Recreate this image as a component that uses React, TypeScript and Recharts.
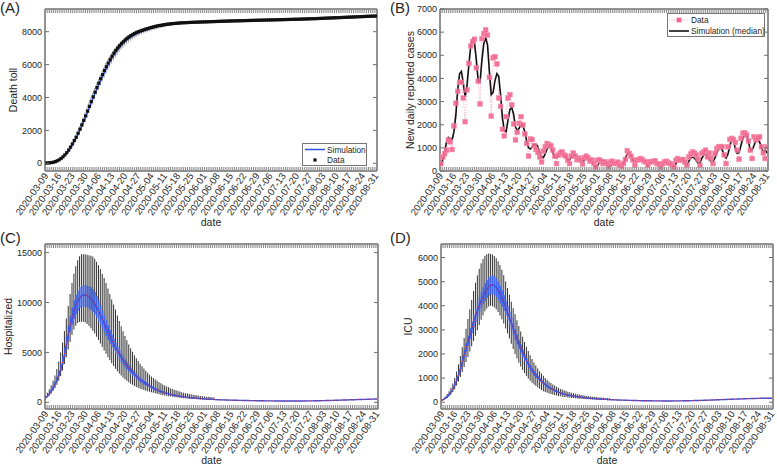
import React from 'react';
import { ComposedChart, Line, Bar, XAxis, YAxis, ReferenceLine } from 'recharts';

// weekly tick labels (day index = 7 * position)
const weekLabels = [
  '2020-03-09', '2020-03-16', '2020-03-23', '2020-03-30', '2020-04-06', '2020-04-13',
  '2020-04-20', '2020-04-27', '2020-05-04', '2020-05-11', '2020-05-18', '2020-05-25',
  '2020-06-01', '2020-06-08', '2020-06-15', '2020-06-22', '2020-06-29', '2020-07-06',
  '2020-07-13', '2020-07-20', '2020-07-27', '2020-08-03', '2020-08-10', '2020-08-17',
  '2020-08-24', '2020-08-31',
];

// (A) cumulative deaths, daily from 2020-03-09
const deathData = [
  15, 20, 30, 45, 65, 100, 150, 210, 290, 390,
  510, 640, 800, 980, 1170, 1380, 1580, 1820, 2070, 2330,
  2600, 2880, 3170, 3460, 3750, 4040, 4320, 4600, 4870, 5140,
  5390, 5640, 5870, 6090, 6300, 6500, 6690, 6860, 7010, 7150,
  7280, 7390, 7500, 7600, 7680, 7760, 7830, 7890, 7950, 8000,
  8040, 8080, 8120, 8160, 8190, 8230, 8260, 8290, 8320, 8350,
  8370, 8390, 8410, 8430, 8450, 8460, 8480, 8490, 8500, 8510,
  8520, 8530, 8540, 8545, 8550, 8555, 8560, 8565, 8570, 8575,
  8580, 8584, 8588, 8592, 8596, 8600, 8604, 8608, 8612, 8616,
  8620, 8624, 8628, 8632, 8636, 8640, 8644, 8648, 8652, 8655,
  8658, 8661, 8664, 8667, 8670, 8673, 8676, 8679, 8682, 8685,
  8688, 8691, 8694, 8697, 8700, 8703, 8706, 8709, 8712, 8715,
  8718, 8721, 8724, 8727, 8730, 8733, 8736, 8739, 8742, 8745,
  8748, 8751, 8754, 8757, 8760, 8764, 8768, 8772, 8776, 8780,
  8784, 8788, 8792, 8796, 8800, 8805, 8810, 8815, 8820, 8825,
  8830, 8835, 8840, 8845, 8850, 8855, 8860, 8865, 8870, 8875,
  8880, 8885, 8890, 8895, 8900, 8905, 8910, 8915, 8920, 8925,
  8930, 8935, 8940, 8944, 8947, 8950,
];
const deathSim = [
  15, 21, 31, 45, 66, 97, 142, 200, 275, 370,
  480, 610, 760, 930, 1120, 1320, 1530, 1760, 2010, 2260,
  2530, 2810, 3090, 3380, 3670, 3960, 4240, 4520, 4790, 5050,
  5300, 5540, 5770, 5990, 6200, 6390, 6570, 6740, 6900, 7040,
  7170, 7290, 7400, 7500, 7590, 7670, 7740, 7810, 7870, 7930,
  7980, 8030, 8070, 8110, 8150, 8190, 8220, 8250, 8280, 8310,
  8340, 8360, 8380, 8400, 8420, 8440, 8450, 8460, 8470, 8480,
  8490, 8500, 8510, 8520, 8530, 8540, 8548, 8555, 8562, 8568,
  8574, 8579, 8584, 8588, 8592, 8596, 8600, 8604, 8608, 8612,
  8616, 8620, 8624, 8628, 8632, 8636, 8640, 8644, 8648, 8651,
  8654, 8657, 8660, 8663, 8666, 8669, 8672, 8675, 8678, 8681,
  8684, 8687, 8690, 8693, 8696, 8699, 8702, 8705, 8708, 8711,
  8714, 8717, 8720, 8723, 8726, 8729, 8732, 8735, 8738, 8741,
  8744, 8747, 8750, 8753, 8756, 8760, 8764, 8768, 8772, 8776,
  8780, 8784, 8788, 8792, 8796, 8801, 8806, 8811, 8816, 8821,
  8826, 8831, 8836, 8841, 8846, 8851, 8856, 8861, 8866, 8871,
  8876, 8881, 8886, 8891, 8896, 8901, 8906, 8911, 8916, 8921,
  8926, 8931, 8936, 8940, 8944, 8947,
];
// whisker ends, only where the spread is visible (first 70 days)
const deathLo = [
  10, 15, 22, 33, 50, 75, 110, 160, 220, 295,
  390, 500, 630, 780, 950, 1130, 1330, 1540, 1770, 2010,
  2260, 2520, 2790, 3070, 3350, 3630, 3910, 4180, 4450, 4710,
  4960, 5200, 5430, 5650, 5860, 6060, 6250, 6430, 6600, 6760,
  6900, 7030, 7150, 7260, 7360, 7450, 7530, 7610, 7680, 7740,
  7800, 7850, 7900, 7950, 7990, 8030, 8070, 8110, 8140, 8170,
  8200, 8230, 8260, 8290, 8310, 8330, 8350, 8370, 8390, 8410,
];
const deathHi = [
  20, 28, 40, 58, 82, 120, 175, 245, 335, 445,
  575, 725, 895, 1085, 1290, 1510, 1740, 1990, 2250, 2520,
  2800, 3090, 3390, 3690, 3990, 4280, 4570, 4850, 5120, 5380,
  5630, 5870, 6100, 6310, 6510, 6700, 6870, 7030, 7170, 7300,
  7420, 7530, 7630, 7720, 7800, 7870, 7940, 8000, 8050, 8100,
  8140, 8180, 8220, 8250, 8280, 8310, 8340, 8370, 8390, 8410,
  8430, 8450, 8470, 8490, 8500, 8510, 8520, 8530, 8540, 8550,
];

// (B) new daily reported cases
const casesData = [
  320, 600, 750, 900, 1340, 1260, 930,
  1950, 2930, 3440, 3830, 3830, 3150, 2130,
  3510, 4650, 5400, 5590, 5690, 4460, 3880,
  2900, 5720, 5940, 6100, 5870, 4050, 2370,
  4890, 4940, 4630, 3150, 2790, 1800, 1520,
  2350, 3150, 3300, 2860, 2030, 1340, 1670,
  2060, 2350, 1990, 1600, 1190, 640, 1380,
  1360, 1100, 930, 800, 610, 390, 860,
  1050, 1190, 1130, 1090, 900, 640, 320,
  680, 780, 830, 700, 640, 460, 320,
  640, 780, 650, 490, 560, 470, 300,
  580, 640, 560, 420, 480, 330, 170,
  460, 490, 420, 320, 400, 320, 170,
  390, 420, 330, 320, 380, 250, 200,
  330, 500, 880, 760, 640, 480, 250,
  460, 490, 540, 500, 420, 390, 250,
  390, 390, 420, 440, 320, 300, 170,
  320, 390, 420, 360, 320, 270, 170,
  460, 540, 460, 490, 500, 380, 250,
  610, 730, 830, 780, 700, 520, 250,
  760, 830, 900, 610, 780, 560, 320,
  760, 970, 1050, 1060, 1050, 700, 320,
  1050, 1360, 1410, 1360, 1230, 900, 510,
  1410, 1630, 1650, 1550, 1300, 900, 540,
  1480, 1340, 1410, 1480, 1050, 780, 540,
  1050,
];
const casesSim = [
  250, 500, 850, 1250, 1450, 1400, 1350, 1700, 2400, 3500,
  4200, 4300, 3800, 3200, 3700, 4600, 5400, 5700, 5550, 4800,
  3900, 3850, 4800, 5500, 5750, 5450, 4300, 3300, 3400, 3900,
  4200, 4100, 3300, 2300, 1750, 1700, 2200, 2650, 2750, 2450,
  1900, 1750, 1850, 2000, 1950, 1700, 1300, 1000, 950, 1050,
  1150, 1150, 1050, 800, 600, 580, 750, 950, 1050, 1000,
  800, 600, 560, 650, 780, 830, 760, 600, 480, 480,
  600, 720, 730, 620, 480, 400, 390, 500, 600, 580,
  450, 330, 230, 180, 220, 380, 480, 490, 400, 280,
  180, 200, 340, 390, 360, 290, 220, 210, 330, 560,
  740, 780, 640, 470, 390, 420, 440, 440, 450, 430,
  330, 230, 300, 380, 400, 410, 380, 300, 200, 230,
  340, 390, 400, 360, 260, 200, 300, 450, 490, 480,
  420, 300, 260, 420, 560, 600, 560, 450, 330, 350,
  550, 690, 730, 640, 480, 400, 420,
  560, 780, 940, 1000, 900, 650, 560, 720, 1050, 1380,
  1300, 950, 760, 800, 1100, 1400, 1580, 1600, 1250, 920,
  900, 1100, 1300, 1360, 1250, 1000, 820, 900, 780,
];

// (C) hospitalized: median for every day, box and whiskers for the first 90 days
const hospMed = [
  450, 650, 900, 1180, 1500, 1880, 2320, 2850, 3450, 4150,
  4950, 6000, 6950, 7850, 8650, 9300, 9800, 10200, 10500, 10700,
  10780, 10760, 10680, 10540, 10350, 10100, 9800, 9450, 9060, 8650,
  8230, 7800, 7380, 6960, 6560, 6170, 5800, 5450, 5120, 4810,
  4480, 4190, 3910, 3650, 3410, 3180, 2970, 2770, 2590, 2420,
  2260, 2110, 1970, 1840, 1720, 1600, 1500, 1400, 1310, 1230,
  1150, 1080, 1010, 950, 890, 840, 790, 750, 710, 670,
  640, 610, 580, 550, 520, 500, 475, 455, 435, 415,
  400, 385, 370, 355, 340, 325, 310, 300, 290, 280,
  270, 262, 255, 248, 241, 235, 229, 223, 217, 212,
  207, 202, 197, 192, 188, 184, 180, 176, 172, 168,
  165, 162, 159, 156, 153, 150, 148, 146, 144, 142,
  140, 138, 136, 134, 132, 131, 130, 129, 128, 128,
  128, 129, 130, 131, 132, 134, 136, 138, 140, 143,
  146, 149, 152, 156, 160, 164, 168, 172, 177, 182,
  187, 192, 197, 203, 209, 215, 221, 227, 233, 239,
  245, 251, 257, 263, 269, 275, 281, 287, 293, 299,
  305, 311, 317, 323, 329, 335,
];
const hospQ1 = [
  400, 590, 810, 1060, 1350, 1690, 2090, 2570, 3110, 3740,
  4460, 5400, 6250, 7070, 7790, 8370, 8820, 9180, 9450, 9600,
  9600, 9580, 9500, 9400, 9250, 9050, 8800, 8480, 8120, 7750,
  7380, 7000, 6620, 6250, 5880, 5530, 5200, 4890, 4590, 4310,
  4030, 3770, 3520, 3290, 3070, 2860, 2670, 2490, 2330, 2180,
  2030, 1900, 1770, 1660, 1550, 1440, 1350, 1260, 1180, 1110,
  1040, 970, 910, 860, 800, 760, 710, 680, 640, 600,
  580, 550, 520, 500, 470, 450, 430, 410, 390, 370,
  360, 350, 330, 320, 310, 290, 280, 270, 260, 250,
];
const hospQ3 = [
  500, 720, 990, 1300, 1650, 2070, 2550, 3140, 3800, 4570,
  5450, 6600, 7650, 8640, 9520, 10230, 10780, 11220, 11550, 11700,
  11750, 11750, 11700, 11650, 11550, 11350, 11050, 10650, 10200, 9700,
  9200, 8700, 8200, 7720, 7250, 6800, 6380, 5990, 5630, 5290,
  4930, 4610, 4300, 4020, 3750, 3500, 3270, 3050, 2850, 2660,
  2490, 2320, 2170, 2020, 1890, 1760, 1650, 1540, 1440, 1350,
  1270, 1190, 1110, 1050, 980, 920, 870, 830, 780, 740,
  700, 670, 640, 610, 570, 550, 520, 500, 480, 460,
  440, 420, 410, 390, 370, 360, 340, 330, 320, 310,
];
const hospLo = [
  350, 500, 680, 890, 1130, 1420, 1760, 2170, 2650, 3200,
  3850, 4550, 5300, 6050, 6750, 7300, 7700, 7950, 8050, 8080,
  8070, 8000, 7850, 7650, 7420, 7170, 6900, 6580, 6240, 5900,
  5550, 5200, 4860, 4530, 4210, 3910, 3630, 3370, 3120, 2890,
  2680, 2490, 2310, 2150, 2000, 1870, 1750, 1640, 1540, 1450,
  1370, 1300, 1230, 1170, 1110, 1060, 1000, 950, 900, 850,
  800, 760, 720, 690, 650, 620, 590, 560, 530, 500,
  480, 460, 440, 420, 400, 385, 370, 355, 340, 325,
  310, 300, 290, 280, 270, 260, 250, 240, 232, 225,
];
const hospHi = [
  650, 950, 1300, 1700, 2150, 2700, 3350, 4100, 5000, 6000,
  7150, 8400, 9650, 10850, 11950, 12900, 13650, 14250, 14650, 14850,
  14850, 14850, 14800, 14750, 14700, 14620, 14400, 14100, 13750, 13350,
  12900, 12450, 11950, 11400, 10850, 10300, 9800, 9300, 8700, 8150,
  7620, 7120, 6650, 6210, 5800, 5420, 5060, 4730, 4420, 4130,
  3860, 3610, 3380, 3160, 2960, 2770, 2600, 2440, 2290, 2150,
  2020, 1900, 1790, 1690, 1590, 1500, 1420, 1340, 1270, 1200,
  1140, 1080, 1020, 970, 920, 880, 840, 800, 760, 730,
  700, 670, 640, 610, 590, 570, 550, 530, 510, 490,
];

// (D) ICU
const icuMed = [
  80, 120, 170, 240, 330, 440, 580, 750, 950, 1180,
  1440, 1720, 2000, 2280, 2560, 2840, 3110, 3370, 3610, 3840,
  4050, 4240, 4420, 4570, 4700, 4800, 4860, 4870, 4830, 4740,
  4620, 4470, 4300, 4110, 3900, 3690, 3470, 3250, 3030, 2810,
  2600, 2400, 2210, 2030, 1860, 1700, 1560, 1430, 1310, 1200,
  1100, 1010, 930, 850, 780, 720, 660, 610, 560, 520,
  480, 445, 410, 385, 360, 335, 315, 295, 280, 265,
  250, 238, 226, 215, 205, 195, 186, 178, 170, 163,
  156, 150, 144, 138, 133, 128, 123, 118, 114, 110,
  106, 102, 98, 95, 92, 89, 86, 83, 80, 78,
  76, 74, 72, 70, 68, 66, 64, 63, 62, 61,
  60, 59, 58, 57, 56, 55, 55, 54, 54, 54,
  54, 54, 54, 55, 55, 56, 57, 58, 59, 60,
  62, 64, 66, 68, 70, 72, 74, 76, 78, 80,
  83, 86, 89, 92, 95, 98, 101, 104, 107, 110,
  113, 116, 119, 122, 125, 128, 131, 134, 137, 140,
  143, 146, 149, 151, 153, 155, 157, 159, 161, 163,
  164, 165, 166, 167, 168, 168,
];
const icuQ1 = [
  74, 110, 156, 220, 305, 405, 535, 690, 875, 1085,
  1325, 1580, 1840, 2100, 2355, 2610, 2860, 3100, 3320, 3530,
  3730, 3900, 4070, 4200, 4320, 4420, 4470, 4480, 4440, 4360,
  4250, 4110, 3960, 3780, 3590, 3390, 3190, 2990, 2790, 2590,
  2390, 2210, 2030, 1870, 1710, 1560, 1440, 1320, 1210, 1100,
  1010, 930, 860, 780, 720, 660, 610, 560, 515, 480,
  440, 410, 375, 355, 330, 310, 290, 270, 258, 244,
  230, 219, 208, 198, 189, 179, 171, 164, 156, 150,
  144, 138, 132, 127, 122, 118, 113, 109, 105, 101,
];
const icuQ3 = [
  90, 130, 185, 260, 355, 475, 625, 810, 1025, 1275,
  1555, 1860, 2160, 2460, 2765, 3070, 3360, 3640, 3900, 4150,
  4370, 4580, 4770, 4940, 5080, 5180, 5230, 5240, 5210, 5120,
  4990, 4830, 4640, 4440, 4210, 3990, 3750, 3510, 3270, 3030,
  2810, 2590, 2390, 2190, 2010, 1840, 1680, 1540, 1410, 1300,
  1190, 1090, 1000, 920, 840, 780, 710, 660, 600, 560,
  520, 480, 440, 415, 390, 360, 340, 320, 300, 285,
  270, 257, 244, 232, 221, 211, 201, 192, 184, 176,
  168, 162, 156, 149, 144, 138, 133, 127, 123, 119,
];
const icuLo = [
  60, 90, 130, 180, 245, 320, 420, 540, 690, 860,
  1050, 1250, 1460, 1670, 1880, 2100, 2320, 2540, 2760, 2980,
  3200, 3420, 3610, 3770, 3890, 3970, 4000, 3980, 3930, 3850,
  3740, 3600, 3440, 3260, 3060, 2850, 2640, 2420, 2210, 2000,
  1810, 1640, 1480, 1340, 1210, 1090, 980, 890, 810, 740,
  680, 620, 560, 510, 460, 420, 390, 360, 340, 320,
  300, 280, 262, 246, 232, 220, 208, 197, 188, 179,
  171, 163, 156, 150, 144, 138, 133, 128, 123, 118,
  114, 110, 106, 102, 98, 95, 92, 89, 86, 83,
];
const icuHi = [
  100, 160, 240, 340, 460, 600, 780, 1000, 1270, 1580,
  1920, 2280, 2660, 3050, 3450, 3850, 4240, 4610, 4950, 5260,
  5530, 5760, 5940, 6070, 6140, 6170, 6160, 6120, 6060, 5970,
  5850, 5690, 5490, 5260, 5010, 4740, 4460, 4170, 3900, 3650,
  3400, 3160, 2930, 2710, 2500, 2300, 2120, 1950, 1790, 1650,
  1520, 1400, 1290, 1190, 1100, 1010, 930, 860, 800, 740,
  690, 640, 600, 560, 525, 495, 465, 440, 415, 392,
  372, 352, 335, 318, 303, 289, 276, 264, 253, 243,
  233, 224, 215, 207, 199, 192, 185, 178, 172, 166,
];

const FONT = '"Liberation Sans", Arial, Helvetica, sans-serif';
const TXT = '#262626';
const TICK = '#8c8c8c';
const FRAME = '#6e6e6e';
const BLUE = '#2f50e6';
const BOX = '#4066f0';
const PINK = '#f2678f';
const X_DOMAIN = [-0.5, 175.5];

const dayTicks = deathData.map((_, i) => i);

const rowsA = deathData.map((v, i) => ({
  day: i, data: v, sim: deathSim[i],
  whisk: i < deathLo.length ? [deathLo[i], deathHi[i]] : undefined,
}));
const rowsB = casesData.map((v, i) => ({ day: i, data: v, sim: casesSim[i] }));
const boxRows = (med: number[], q1: number[], q3: number[], lo: number[], hi: number[]) =>
  med.map((m, i) => ({
    day: i, med: m,
    whisk: i < lo.length ? [lo[i], hi[i]] : undefined,
    box: i < q1.length ? [q1[i], q3[i]] : undefined,
  }));
const rowsC = boxRows(hospMed, hospQ1, hospQ3, hospLo, hospHi);
const rowsD = boxRows(icuMed, icuQ1, icuQ3, icuLo, icuHi);

// bottom axis: a small inward tick every day, a rotated date every 7th day
const BottomTick = (props: any) => {
  const { x, y, payload } = props;
  const d = payload.value;
  const ly = y + 3;
  return (
    <g>
      <line x1={x} x2={x} y1={y} y2={y - 4} stroke={TICK} />
      {d % 7 === 0 && (
        <text x={x} y={ly} dy="0.35em" textAnchor="end" transform={`rotate(-55 ${x} ${ly})`}
          fontSize={9.6} fill={TXT} fontFamily={FONT}>{weekLabels[d / 7]}</text>
      )}
    </g>
  );
};
const TopTick = (props: any) => (
  <line x1={props.x} x2={props.x} y1={props.y} y2={props.y + 4} stroke={TICK} />
);
const LeftTick = (props: any) => {
  const { x, y, payload } = props;
  return (
    <g>
      <line x1={x} x2={x + 4} y1={y} y2={y} stroke={FRAME} />
      <text x={x - 3} y={y} dy="0.35em" textAnchor="end" fontSize={9} fill={TXT} fontFamily={FONT}>{payload.value}</text>
    </g>
  );
};
const RightTick = (props: any) => (
  <line x1={props.x} x2={props.x - 4} y1={props.y} y2={props.y} stroke={FRAME} />
);

const yTitle = (text: string, x: number) => (props: any) => {
  const vb = props.viewBox || {};
  const cy = (vb.y || 0) + (vb.height || 0) / 2;
  return (
    <text x={x} y={cy} transform={`rotate(-90 ${x} ${cy})`} textAnchor="middle"
      dominantBaseline="central" fontSize={10.5} fill={TXT} fontFamily={FONT}>{text}</text>
  );
};

function axes(yDomain: number[], yTicks: number[], title: string, titleX: number,
  yWidth: number, xHeight: number, dateOffset: number) {
  const line = { stroke: FRAME };
  return [
    <XAxis key="x" xAxisId={0} type="number" dataKey="day" domain={X_DOMAIN} allowDataOverflow
      ticks={dayTicks} interval={0} tick={<BottomTick />} tickLine={false} axisLine={line}
      tickSize={0} tickMargin={0} height={xHeight}
      label={{ value: 'date', position: 'insideBottom', offset: dateOffset, fontSize: 10.5, fill: TXT, fontFamily: FONT }} />,
    <XAxis key="xb" xAxisId="b" type="number" dataKey="day" domain={X_DOMAIN} allowDataOverflow hide />,
    <XAxis key="xt" xAxisId="t" type="number" dataKey="day" domain={X_DOMAIN} allowDataOverflow
      orientation="top" ticks={dayTicks} interval={0} tick={<TopTick />} tickLine={false}
      tickSize={0} tickMargin={0} axisLine={line} height={1} />,
    <YAxis key="y" yAxisId={0} type="number" domain={yDomain} allowDataOverflow ticks={yTicks}
      interval={0} width={yWidth} tickLine={false} axisLine={line} tickSize={0} tickMargin={0}
      tick={<LeftTick />} label={yTitle(title, titleX)} />,
    <YAxis key="yr" yAxisId="r" type="number" domain={yDomain} allowDataOverflow ticks={yTicks}
      orientation="right" interval={0} tick={<RightTick />} tickLine={false} tickSize={0} tickMargin={0}
      axisLine={line} width={1} />,
    // plot frame
    <ReferenceLine key="f1" xAxisId={0} yAxisId={0} x={X_DOMAIN[0]} stroke={FRAME} ifOverflow="visible" />,
    <ReferenceLine key="f2" xAxisId={0} yAxisId={0} x={X_DOMAIN[1]} stroke={FRAME} ifOverflow="visible" />,
    <ReferenceLine key="f3" xAxisId={0} yAxisId={0} y={yDomain[0]} stroke={FRAME} ifOverflow="visible" />,
    <ReferenceLine key="f4" xAxisId={0} yAxisId={0} y={yDomain[1]} stroke={FRAME} ifOverflow="visible" />,
  ];
}

const blackSquare = (p: any) =>
  p.cx == null || p.cy == null ? <g key={`a${p.index}`} /> :
    <rect key={`a${p.index}`} x={p.cx - 1.6} y={p.cy - 1.6} width={3.2} height={3.2} fill="#111" />;
const pinkSquare = (p: any) =>
  p.cx == null || p.cy == null ? <g key={`b${p.index}`} /> :
    <rect key={`b${p.index}`} x={p.cx - 2.4} y={p.cy - 2.4} width={4.8} height={4.8}
      fill={PINK} fillOpacity={0.9} stroke="#f48fab" strokeWidth={0.5} />;

const pos = (left: number, top: number): React.CSSProperties => ({ position: 'absolute', left, top });

export default function App() {
  return (
    <div style={{ position: 'relative', width: 777, height: 465, background: '#fff', overflow: 'hidden', fontFamily: FONT }}>
      <style>{'body{margin:0}'}</style>

      <div style={pos(0, 0)}>
        <ComposedChart width={390} height={230} data={rowsA} margin={{ top: 8, right: 12, bottom: 0, left: 0 }}>
          {axes([-470, 9380], [0, 2000, 4000, 6000, 8000], 'Death toll', 13, 45, 59, 4)}
          <Bar dataKey="whisk" xAxisId={0} fill="#9a9a9a" barSize={1} isAnimationActive={false} />
          <Line dataKey="sim" stroke={BLUE} strokeWidth={1.5} dot={false} activeDot={false} isAnimationActive={false} />
          <Line dataKey="data" stroke="none" dot={blackSquare} activeDot={false} isAnimationActive={false} />
        </ComposedChart>
      </div>

      <div style={pos(390, 0)}>
        <ComposedChart width={387} height={230} data={rowsB} margin={{ top: 8, right: 8, bottom: 0, left: 0 }}>
          {axes([0, 7000], [0, 1000, 2000, 3000, 4000, 5000, 6000, 7000], 'New daily reported cases', 20, 50, 59, 4)}
          <Line dataKey="data" stroke="#f290ad" strokeWidth={0.8} strokeDasharray="1 1.6" dot={pinkSquare}
            activeDot={false} isAnimationActive={false} />
          <Line dataKey="sim" stroke="#111" strokeWidth={1.6} dot={false} activeDot={false} isAnimationActive={false} />
        </ComposedChart>
      </div>

      <div style={pos(0, 230)}>
        <ComposedChart width={390} height={235} data={rowsC} margin={{ top: 13, right: 11, bottom: 0, left: 0 }}>
          {axes([-670, 15870], [0, 5000, 10000, 15000], 'Hospitalized', 8, 45, 56, 1)}
          <Bar dataKey="whisk" xAxisId={0} fill="#333" barSize={1} isAnimationActive={false} />
          <Bar dataKey="box" xAxisId="b" fill={BOX} barSize={1.6} isAnimationActive={false} />
          <Line dataKey="med" stroke={BLUE} strokeWidth={1.4} dot={false} activeDot={false} isAnimationActive={false} />
          <Line dataKey="med" stroke="#e8343f" strokeWidth={1} strokeDasharray="1.2 1.8" dot={false} activeDot={false} isAnimationActive={false} />
        </ComposedChart>
      </div>

      <div style={pos(390, 230)}>
        <ComposedChart width={387} height={235} data={rowsD} margin={{ top: 13, right: 3, bottom: 0, left: 0 }}>
          {axes([-280, 6560], [0, 1000, 2000, 3000, 4000, 5000, 6000], 'ICU', 18, 51, 56, 1)}
          <Bar dataKey="whisk" xAxisId={0} fill="#333" barSize={1} isAnimationActive={false} />
          <Bar dataKey="box" xAxisId="b" fill={BOX} barSize={1.6} isAnimationActive={false} />
          <Line dataKey="med" stroke={BLUE} strokeWidth={1.4} dot={false} activeDot={false} isAnimationActive={false} />
          <Line dataKey="med" stroke="#e8343f" strokeWidth={1} strokeDasharray="1.2 1.8" dot={false} activeDot={false} isAnimationActive={false} />
        </ComposedChart>
      </div>

      <svg style={{ position: 'absolute', left: 0, top: 0, pointerEvents: 'none' }} width={777} height={465}
        fontFamily={FONT} fill={TXT}>
        <text x={0} y={13} fontSize={15}>(A)</text>
        <text x={390} y={13} fontSize={15}>(B)</text>
        <text x={0} y={243} fontSize={15}>(C)</text>
        <text x={390} y={243} fontSize={15}>(D)</text>

        <rect x={302.5} y={143.5} width={64} height={22} fill="#fff" stroke="#777" />
        <line x1={305} x2={325} y1={149.5} y2={149.5} stroke={BLUE} strokeWidth={1.5} />
        <text x={327} y={149.5} fontSize={8.3} dominantBaseline="central">Simulation</text>
        <rect x={313.4} y={158.4} width={3.2} height={3.2} fill="#111" />
        <text x={327} y={160} fontSize={8.3} dominantBaseline="central">Data</text>

        <rect x={667.5} y={13.5} width={97} height={23} fill="#fff" stroke="#777" />
        <line x1={669} x2={689} y1={20} y2={20} stroke="#f290ad" strokeWidth={0.8} strokeDasharray="1 1.6" />
        <rect x={676.6} y={17.6} width={4.8} height={4.8} fill={PINK} />
        <text x={691} y={20} fontSize={8.3} dominantBaseline="central">Data</text>
        <line x1={669} x2={689} y1={31} y2={31} stroke="#111" strokeWidth={1.6} />
        <text x={691} y={31} fontSize={8.3} dominantBaseline="central">Simulation (median)</text>
      </svg>
    </div>
  );
}
